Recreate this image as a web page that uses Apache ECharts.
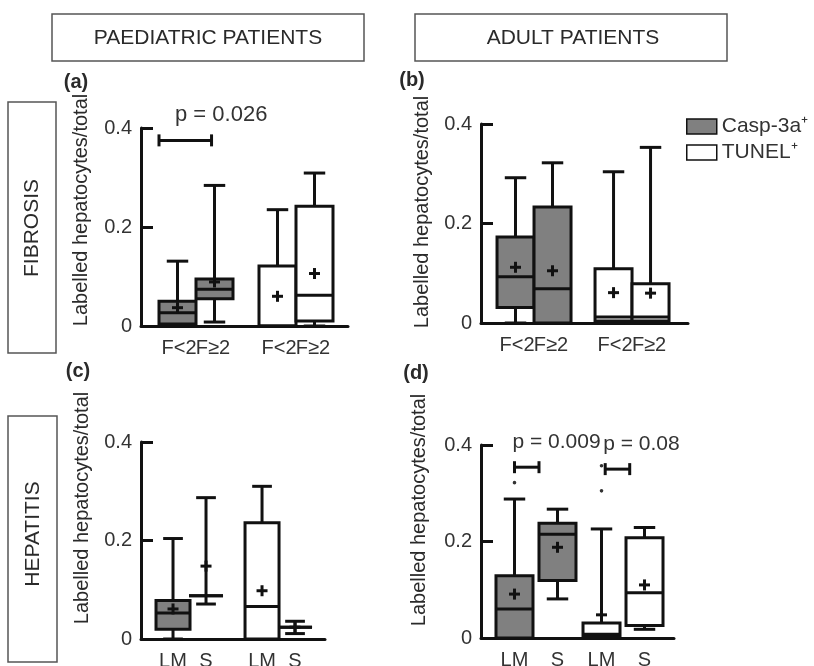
<!DOCTYPE html>
<html><head><meta charset="utf-8">
<script src="https://cdn.jsdelivr.net/npm/echarts@6/dist/echarts.min.js"></script>
<style>html,body{margin:0;padding:0;background:#fff}#c{width:814px;height:666px}</style>
</head><body><div id="c"></div>
<script>
// ---------------- data ----------------
const markers = ['Casp-3a⁺', 'TUNEL⁺'];
const fibrosisGroups = ['F<2', 'F≥2'];
const hepatitisGroups = ['LM', 'S'];
const yTicks = [0, 0.2, 0.4];
// box statistics per group: [min, q1, median, q3, max, mean]
const paedFibrosisCasp   = [[0, 0.004, 0.027, 0.050, 0.131, 0.037], [0.008, 0.055, 0.074, 0.095, 0.284, 0.089]];
const paedFibrosisTunel  = [[0, 0, 0, 0.121, 0.235, 0.060], [0, 0.010, 0.062, 0.242, 0.309, 0.106]];
const adultFibrosisCasp  = [[0, 0.031, 0.093, 0.173, 0.292, 0.112], [0, 0, 0.069, 0.233, 0.322, 0.105]];
const adultFibrosisTunel = [[0, 0.004, 0.012, 0.109, 0.304, 0.061], [0, 0.004, 0.012, 0.079, 0.353, 0.060]];
const paedHepatitisCasp   = [[0, 0.020, 0.053, 0.078, 0.204, 0.061], [0.071, 0.088, 0.088, 0.088, 0.287, 0.148]];
const paedHepatitisTunel  = [[0, 0, 0.066, 0.236, 0.310, 0.098], [0.011, 0.024, 0.024, 0.024, 0.036, 0.024]];
const adultHepatitisCasp  = [[0, 0, 0.060, 0.129, 0.288, 0.091], [0.081, 0.119, 0.215, 0.238, 0.267, 0.188]];
const adultHepatitisTunel = [[0, 0.003, 0.008, 0.031, 0.226, 0.048], [0.018, 0.026, 0.094, 0.208, 0.229, 0.110]];
const adultHepatitisCaspOutliers  = [[0.322], []];
const adultHepatitisTunelOutliers = [[0.305, 0.357], []];
// p-values: marker index compared between its two groups, bracket height, text
const pValuesA = [{ marker: 0, y: 0.375, text: 'p = 0.026' }];
const pValuesD = [{ marker: 0, y: 0.354, text: 'p = 0.009' }, { marker: 1, y: 0.350, text: 'p = 0.08' }];
const yTitle = 'Labelled hepatocytes/total';

// ---------------- layout ----------------
const FONT = '"Liberation Sans", Arial, Helvetica, sans-serif';
const INK = '#111';
const GREY = '#808080';
const panels = [
  { grid: { left: 141, top: 128, width: 207, height: 198 }, xMin: 0.45, xMax: 2.52, boxW: 37, spacing: 37,
    groups: fibrosisGroups, casp: paedFibrosisCasp, tunel: paedFibrosisTunel, caspOut: [[], []], tunelOut: [[], []],
    pv: pValuesA, bracketOff: [[-0.5, -0.08]], pDx: 16, pFont: 22 },
  { grid: { left: 481, top: 124, width: 207, height: 199 }, xMin: 0.459, xMax: 2.571, boxW: 37, spacing: 37,
    groups: fibrosisGroups, casp: adultFibrosisCasp, tunel: adultFibrosisTunel, caspOut: [[], []], tunelOut: [[], []],
    pv: [], bracketOff: [], pDx: 0, pFont: 21 },
  { grid: { left: 141, top: 442, width: 184, height: 197 }, xMin: 0.455, xMax: 2.522, boxW: 34, spacing: 33,
    groups: hepatitisGroups, casp: paedHepatitisCasp, tunel: paedHepatitisTunel, caspOut: [[], []], tunelOut: [[], []],
    pv: [], bracketOff: [], pDx: 0, pFont: 21 },
  { grid: { left: 481, top: 445, width: 193, height: 193 }, xMin: 0.368, xMax: 2.586, boxW: 37, spacing: 43,
    groups: hepatitisGroups, casp: adultHepatitisCasp, tunel: adultHepatitisTunel,
    caspOut: adultHepatitisCaspOutliers, tunelOut: adultHepatitisTunelOutliers,
    pv: pValuesD, bracketOff: [[0, -0.5], [0.1, -0.4]], pDx: -2, pFont: 21 }
];

function ln(x1, y1, x2, y2, w) {
  return { type: 'line', shape: { x1, y1, x2, y2 }, style: { stroke: INK, lineWidth: w || 3 } };
}

function boxRenderer(panel, marker) {
  const outliers = marker === 0 ? panel.caspOut : panel.tunelOut;
  return function (params, api) {
    const g = api.value(0), s = api.value(1);
    const mn = api.value(2), q1 = api.value(3), md = api.value(4), q3 = api.value(5), mx = api.value(6), mean = api.value(7);
    const base = api.coord([g, 0]);
    const cx = base[0] + (s - 0.5) * panel.spacing;
    const Y = v => api.coord([g, v])[1];
    const w = panel.boxW, half = w / 2, cap = w * 0.29;
    const ch = [];
    if (mx > q3) { ch.push(ln(cx, Y(mx), cx, Y(q3))); ch.push(ln(cx - cap, Y(mx), cx + cap, Y(mx))); }
    if (mn < q1) { ch.push(ln(cx, Y(q1), cx, Y(mn))); ch.push(ln(cx - cap, Y(mn), cx + cap, Y(mn))); }
    ch.push({ type: 'rect', shape: { x: cx - half, y: Y(q3), width: w, height: Y(q1) - Y(q3) },
      style: { fill: api.visual('color'), stroke: INK, lineWidth: 3 } });
    ch.push(ln(cx - half, Y(md), cx + half, Y(md)));
    const my = Y(mean), pl = 5.5;
    ch.push(ln(cx - pl, my, cx + pl, my)); ch.push(ln(cx, my - pl, cx, my + pl));
    (outliers[params.dataIndex] || []).forEach(o => ch.push({ type: 'circle', shape: { cx: cx, cy: Y(o), r: 1.8 }, style: { fill: '#333' } }));
    // group label under each box; fibrosis labels lean toward each other so they touch like the original
    const lean = panel.groups === fibrosisGroups ? (s === 0 ? 1.5 : -1.5) : 0;
    ch.push({ type: 'text', x: cx + lean, y: base[1] + 22,
      style: { text: panel.groups[s], font: '20px ' + FONT, fill: '#333', align: 'center', verticalAlign: 'middle' } });
    return { type: 'group', children: ch };
  };
}

function bracketRenderer(panel) {
  return function (params, api) {
    const i = params.dataIndex;
    const p = api.coord([api.value(0), api.value(1)]);
    const off = panel.bracketOff[i];
    const x1 = p[0] - panel.spacing / 2 + off[0] * panel.boxW;
    const x2 = p[0] + panel.spacing / 2 + off[1] * panel.boxW;
    const y = p[1];
    return { type: 'group', children: [
      ln(x1, y, x2, y), ln(x1, y - 6, x1, y + 6), ln(x2, y - 6, x2, y + 6),
      { type: 'text', x: x1 + panel.pDx, y: y - 25,
        style: { text: panel.pv[i].text, font: panel.pFont + 'px ' + FONT, fill: '#333', align: 'left', verticalAlign: 'middle' } }
    ] };
  };
}

const grids = [], xAxes = [], yAxes = [], series = [];
panels.forEach((panel, k) => {
  grids.push(Object.assign({ containLabel: false }, panel.grid));
  xAxes.push({ gridIndex: k, type: 'value', min: panel.xMin, max: panel.xMax,
    axisLine: { show: true, onZero: false, lineStyle: { color: INK, width: 3 } },
    axisTick: { show: false }, axisLabel: { show: false }, splitLine: { show: false } });
  yAxes.push({ gridIndex: k, type: 'value', min: yTicks[0], max: yTicks[yTicks.length - 1], interval: yTicks[1] - yTicks[0],
    axisLine: { show: true, lineStyle: { color: INK, width: 3 } },
    axisTick: { show: true, inside: true, length: 12, lineStyle: { color: INK, width: 3 } },
    axisLabel: { fontSize: 20, color: '#333', fontFamily: FONT, margin: 9 },
    splitLine: { show: false } });
  [panel.casp, panel.tunel].forEach((stats, m) => {
    series.push({ type: 'custom', name: markers[m], xAxisIndex: k, yAxisIndex: k, clip: false,
      itemStyle: { color: m === 0 ? GREY : '#ffffff', borderColor: INK, borderWidth: 2 },
      encode: { x: 0, y: [2, 3, 4, 5, 6, 7] },
      data: stats.map((st, i) => [m + 1, i].concat(st)),
      renderItem: boxRenderer(panel, m) });
  });
  if (panel.pv.length) {
    series.push({ type: 'custom', name: 'p', xAxisIndex: k, yAxisIndex: k, clip: false, silent: true,
      encode: { x: 0, y: 1 },
      data: panel.pv.map(p => [p.marker + 1, p.y]),
      renderItem: bracketRenderer(panel) });
  }
});

function txt(x, y, text, size, opts) {
  return Object.assign({ type: 'text', x, y,
    style: { text, font: (opts && opts.bold ? 'bold ' : '') + size + 'px ' + FONT, fill: '#2a2a2a', align: 'center', verticalAlign: 'middle' } },
    opts && opts.rot ? { rotation: Math.PI / 2 } : {});
}
function frame(x, y, w, h) {
  return { type: 'rect', shape: { x, y, width: w, height: h }, style: { fill: 'none', stroke: '#555', lineWidth: 1.5 } };
}

const graphic = [
  frame(52, 14, 312, 47), txt(208, 38, 'PAEDIATRIC PATIENTS', 21),
  frame(415, 14, 312, 47), txt(573, 38, 'ADULT PATIENTS', 21),
  frame(8, 102, 48, 251), txt(32, 228, 'FIBROSIS', 21, { rot: true }),
  frame(8, 416, 49, 246), txt(33, 534, 'HEPATITIS', 21, { rot: true }),
  txt(76, 82, '(a)', 20, { bold: true }), txt(412, 80, '(b)', 20, { bold: true }),
  txt(78, 371, '(c)', 20, { bold: true }), txt(416, 373, '(d)', 20, { bold: true }),
  txt(81, 210, yTitle, 20, { rot: true }), txt(422, 212, yTitle, 20, { rot: true }),
  txt(82, 508, yTitle, 20, { rot: true }), txt(419, 510, yTitle, 20, { rot: true })
];

const chart = echarts.init(document.getElementById('c'), null, { renderer: 'canvas' });
chart.setOption({
  animation: false,
  backgroundColor: '#fff',
  textStyle: { fontFamily: FONT },
  grid: grids, xAxis: xAxes, yAxis: yAxes,
  legend: { data: markers, orient: 'vertical', left: 686, top: 116, icon: 'rect',
    itemWidth: 30, itemHeight: 15, itemGap: 5, selectedMode: false, padding: 0,
    itemStyle: { borderColor: INK, borderWidth: 1.5 },
    textStyle: { fontSize: 21, color: '#333', fontFamily: FONT } },
  graphic: graphic,
  series: series
});
</script></body></html>
